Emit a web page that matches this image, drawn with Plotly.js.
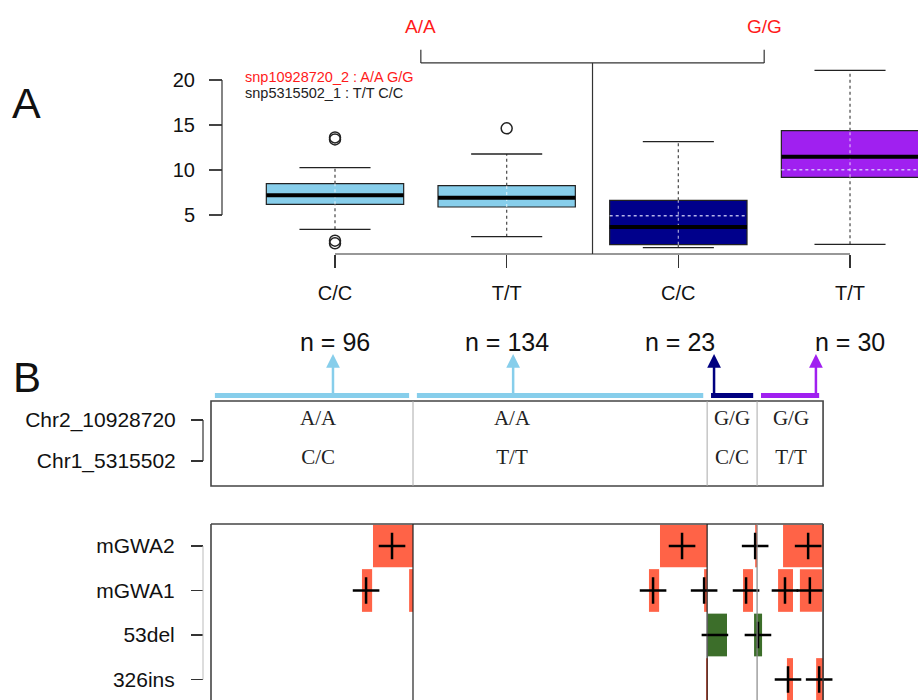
<!DOCTYPE html>
<html><head><meta charset="utf-8">
<script src="https://cdn.plot.ly/plotly-3.0.1.min.js"></script>
<style>html,body{margin:0;padding:0;background:#fff}#chart{width:918px;height:700px}</style>
</head><body><div id="chart"></div>
<script>
// ---------- Panel A : box plots ----------
const boxPos = [1, 2, 3, 4];
const boxTickText = ['C/C', 'T/T', 'C/C', 'T/T'];
const boxColors = ['#87CEEB', '#87CEEB', '#00008B', '#A020F0'];
const q1 = [6.19, 5.89, 1.70, 9.19];
const med = [7.19, 6.93, 3.67, 11.48];
const q3 = [8.48, 8.26, 6.63, 14.37];
const whiskLo = [3.41, 2.59, 1.37, 1.74];
const whiskHi = [10.26, 11.78, 13.15, 21.07];
const means = [null, null, 4.93, 10.04];
const outX = [1, 1, 1, 1, 2];
const outY = [13.40, 13.62, 1.85, 2.15, 14.63];
const groupLabels = ['A/A', 'G/G'];
const groupMembers = [[1, 2], [3, 4]];
const legendLines = ['snp10928720_2 : A/A G/G', 'snp5315502_1 : T/T C/C'];
const legendColors = ['#ff1a1a', '#222222'];
const yTicksA = [5, 10, 15, 20];

// ---------- Panel B : haplotype groups ----------
const hapNames = ['Chr2_10928720', 'Chr1_5315502'];
const hapRows = [2, 1];
const hapEdges = [0, 93.4, 229.4, 252.5, 283];
const hapCounts = [96, 134, 23, 30];
const hapColors = ['#87CEEB', '#87CEEB', '#000080', '#A020F0'];
const hapSnp1 = ['A/A', 'A/A', 'G/G', 'G/G'];
const hapSnp2 = ['C/C', 'T/T', 'C/C', 'T/T'];
const hapTextX = [49.5, 139.2, 240.9, 268.2];
const arrowX = [56.4, 139.7, 232.6, 279.7];
const countLabelX = [57.3, 136.9, 216.9, 295.5];

// ---------- Panel C : tracks ----------
const trackNames = ['326ins', '53del', 'mGWA1', 'mGWA2'];
const trackRows = [1, 2, 3, 4];
const redStart = [74.9, 207.6, 251.6, 264.5, 69.8, 91.6, 202.5, 228.0, 246.0, 262.2, 272.3, 228.9, 266.3, 279.8];
const redEnd   = [93.4, 229.4, 252.5, 283.0, 74.5, 93.4, 207.2, 229.4, 250.6, 269.1, 282.5, 229.8, 269.1, 283.0];
const redRow   = [4, 4, 4, 4, 3, 3, 3, 3, 3, 3, 3, 1, 1, 1];
const greenStart = [229.8, 251.1];
const greenEnd = [238.6, 254.8];
const greenRow = [2, 2];
const plusX = [83.7, 217.8, 251.6, 276.1, 71.7, 204.4, 228.0, 247.4, 265.4, 276.9, 252.9, 266.8, 281.2];
const plusRow = [4, 4, 4, 4, 3, 3, 3, 3, 3, 3, 2, 1, 1];
const minusX = [233.0];
const minusRow = [2];

const SANS = 'Liberation Sans, Arial, Helvetica, sans-serif';
const SERIF = 'Liberation Serif, Times New Roman, serif';
const W = 918, H = 700;
const px = v => v / W, py = v => 1 - v / H;

const traces = [];
const shapes = [];
const annotations = [];

// --- Panel A traces
const halfBox = 0.4, halfCap = 0.207;
traces.push({
  type: 'bar', x: boxPos, y: q3.map((v, i) => v - q1[i]), base: q1, width: 0.8,
  marker: {color: boxColors, line: {color: '#222', width: 1.2}},
  xaxis: 'x', yaxis: 'y', hoverinfo: 'skip', showlegend: false
});
function segs(xs0, xs1, ys0, ys1) {
  const X = [], Y = [];
  for (let i = 0; i < xs0.length; i++) {
    if (ys0[i] == null || ys1[i] == null) continue;
    X.push(xs0[i], xs1[i], null); Y.push(ys0[i], ys1[i], null);
  }
  return {X, Y};
}
let s;
s = segs(boxPos, boxPos, whiskLo, q1);
traces.push({type: 'scatter', mode: 'lines', x: s.X, y: s.Y, line: {color: '#555', width: 1.3, dash: 'dot'}, xaxis: 'x', yaxis: 'y', hoverinfo: 'skip', showlegend: false});
s = segs(boxPos, boxPos, q3, whiskHi);
traces.push({type: 'scatter', mode: 'lines', x: s.X, y: s.Y, line: {color: '#555', width: 1.3, dash: 'dot'}, xaxis: 'x', yaxis: 'y', hoverinfo: 'skip', showlegend: false});
s = segs(boxPos, boxPos, q1, q3);
traces.push({type: 'scatter', mode: 'lines', x: s.X, y: s.Y, line: {color: 'rgba(255,255,255,0.6)', width: 1.3, dash: 'dot'}, xaxis: 'x', yaxis: 'y', hoverinfo: 'skip', showlegend: false});
s = segs(boxPos.map(p => p - halfBox), boxPos.map(p => p + halfBox), means, means);
traces.push({type: 'scatter', mode: 'lines', x: s.X, y: s.Y, line: {color: 'rgba(225,225,255,0.8)', width: 1.5, dash: 'dot'}, xaxis: 'x', yaxis: 'y', hoverinfo: 'skip', showlegend: false});
const capsLo = segs(boxPos.map(p => p - halfCap), boxPos.map(p => p + halfCap), whiskLo, whiskLo);
const capsHi = segs(boxPos.map(p => p - halfCap), boxPos.map(p => p + halfCap), whiskHi, whiskHi);
traces.push({type: 'scatter', mode: 'lines', x: capsLo.X.concat(capsHi.X), y: capsLo.Y.concat(capsHi.Y), line: {color: '#222', width: 1.3}, xaxis: 'x', yaxis: 'y', hoverinfo: 'skip', showlegend: false});
s = segs(boxPos.map(p => p - halfBox), boxPos.map(p => p + halfBox), med, med);
traces.push({type: 'scatter', mode: 'lines', x: s.X, y: s.Y, line: {color: '#000', width: 4}, xaxis: 'x', yaxis: 'y', hoverinfo: 'skip', showlegend: false});
traces.push({type: 'scatter', mode: 'markers', x: outX, y: outY, marker: {symbol: 'circle-open', size: 11, color: '#222', line: {width: 1.5}}, xaxis: 'x', yaxis: 'y', hoverinfo: 'skip', showlegend: false});

// --- Panel A decorations
const yAxisX = 0.3418, xAxisY = 0.667, bracketY = 21.9, bracketTop = 23.35, groupLabelY = 25.9;
shapes.push({type: 'line', xref: 'x', yref: 'y', x0: yAxisX, x1: yAxisX, y0: yTicksA[0], y1: yTicksA[yTicksA.length - 1], line: {color: '#333', width: 1.2}});
shapes.push({type: 'line', xref: 'x', yref: 'y', x0: boxPos[0], x1: boxPos[boxPos.length - 1], y0: xAxisY, y1: xAxisY, line: {color: '#333', width: 1.2}});
const gCenters = groupMembers.map(g => (g[0] + g[1]) / 2);
const sepX = (groupMembers[0][1] + groupMembers[1][0]) / 2;
shapes.push({type: 'line', xref: 'x', yref: 'y', x0: sepX, x1: sepX, y0: xAxisY, y1: bracketY, line: {color: '#333', width: 1.2}});
shapes.push({type: 'line', xref: 'x', yref: 'y', x0: gCenters[0], x1: gCenters[1], y0: bracketY, y1: bracketY, line: {color: '#333', width: 1.2}});
gCenters.forEach((c, i) => {
  shapes.push({type: 'line', xref: 'x', yref: 'y', x0: c, x1: c, y0: bracketY, y1: bracketTop, line: {color: '#333', width: 1.2}});
  annotations.push({xref: 'x', yref: 'y', x: c, y: groupLabelY, text: groupLabels[i], showarrow: false, font: {family: SANS, size: 19, color: '#ff1a1a'}});
});
legendLines.forEach((t, i) => {
  annotations.push({xref: 'paper', yref: 'paper', x: px(243), y: py(77 + 16 * i), xanchor: 'left', yanchor: 'middle', text: t, showarrow: false, font: {family: SANS, size: 14.5, color: legendColors[i]}});
});
annotations.push({xref: 'paper', yref: 'paper', x: px(10), y: py(103), xanchor: 'left', yanchor: 'middle', text: 'A', showarrow: false, font: {family: SANS, size: 43, color: '#111', weight: 300}});
annotations.push({xref: 'paper', yref: 'paper', x: px(11), y: py(377), xanchor: 'left', yanchor: 'middle', text: 'B', showarrow: false, font: {family: SANS, size: 42, color: '#111', weight: 300}});

// --- Panel B
const boxBTop = 2.463, boxBBot = 0.39, barY = 2.598, arrowTipY = 3.61, countY = 3.90;
shapes.push({type: 'rect', xref: 'x2', yref: 'y2', x0: hapEdges[0], x1: hapEdges[hapEdges.length - 1], y0: boxBBot, y1: boxBTop, line: {color: '#444', width: 1.6}, fillcolor: 'rgba(0,0,0,0)'});
hapEdges.slice(1, -1).forEach(e => {
  shapes.push({type: 'line', xref: 'x2', yref: 'y2', x0: e, x1: e, y0: boxBBot, y1: boxBTop, line: {color: '#aaa', width: 1}});
});
shapes.push({type: 'line', xref: 'paper', yref: 'y2', x0: px(203), x1: px(203), y0: hapRows[1], y1: hapRows[0], line: {color: '#333', width: 1.2}});
const gap = 1.8;
hapCounts.forEach((n, i) => {
  traces.push({type: 'scatter', mode: 'lines', x: [hapEdges[i] + gap, hapEdges[i + 1] - gap], y: [barY, barY], line: {color: hapColors[i], width: 5}, xaxis: 'x2', yaxis: 'y2', hoverinfo: 'skip', showlegend: false});
  annotations.push({xref: 'x2', yref: 'y2', axref: 'x2', ayref: 'y2', x: arrowX[i], y: arrowTipY, ax: arrowX[i], ay: barY, text: '', showarrow: true, arrowhead: 2, arrowsize: 1.1, arrowwidth: 2.5, arrowcolor: hapColors[i]});
  annotations.push({xref: 'x2', yref: 'y2', x: countLabelX[i], y: countY, text: 'n = ' + n, showarrow: false, font: {family: SANS, size: 25, color: '#111'}});
});
traces.push({type: 'scatter', mode: 'text', x: hapTextX.concat(hapTextX), y: hapTextX.map(() => hapRows[0]).concat(hapTextX.map(() => hapRows[1] + 0.05)), text: hapSnp1.concat(hapSnp2), textfont: {family: SERIF, size: 21, color: '#222'}, xaxis: 'x2', yaxis: 'y2', hoverinfo: 'skip', showlegend: false});

// --- Panel C
const frameTop = 4.494, frameBot = 0.539;
traces.push({type: 'bar', orientation: 'h', y: redRow, base: redStart, x: redEnd.map((v, i) => v - redStart[i]), width: 0.96, marker: {color: '#FF6347', line: {width: 0}}, xaxis: 'x2', yaxis: 'y3', hoverinfo: 'skip', showlegend: false});
traces.push({type: 'bar', orientation: 'h', y: greenRow, base: greenStart, x: greenEnd.map((v, i) => v - greenStart[i]), width: 0.96, marker: {color: '#3C6E2A', line: {width: 0}}, xaxis: 'x2', yaxis: 'y3', hoverinfo: 'skip', showlegend: false});
traces.push({type: 'scatter', mode: 'markers', x: plusX, y: plusRow, marker: {symbol: 'cross-thin', size: 19, color: '#000', line: {color: '#000', width: 2.5}}, xaxis: 'x2', yaxis: 'y3', hoverinfo: 'skip', showlegend: false});
traces.push({type: 'scatter', mode: 'markers', x: minusX, y: minusRow, marker: {symbol: 'line-ew', size: 19, color: '#000', line: {color: '#000', width: 2.5}}, xaxis: 'x2', yaxis: 'y3', hoverinfo: 'skip', showlegend: false});
shapes.push({type: 'line', xref: 'x2', yref: 'y3', x0: hapEdges[0], x1: hapEdges[0], y0: frameBot, y1: frameTop, line: {color: '#444', width: 1.6}});
shapes.push({type: 'line', xref: 'x2', yref: 'y3', x0: hapEdges[4], x1: hapEdges[4], y0: frameBot, y1: frameTop, line: {color: '#333', width: 1.6}});
shapes.push({type: 'line', xref: 'x2', yref: 'y3', x0: hapEdges[0], x1: hapEdges[4], y0: frameTop, y1: frameTop, line: {color: '#444', width: 1.6}});
[[hapEdges[1], '#222'], [hapEdges[2], '#222'], [hapEdges[3], '#888']].forEach(([e, c]) => {
  shapes.push({type: 'line', xref: 'x2', yref: 'y3', x0: e, x1: e, y0: frameBot, y1: frameTop, line: {color: c, width: 1.2}});
});
shapes.push({type: 'line', xref: 'paper', yref: 'y3', x0: px(203), x1: px(203), y0: trackRows[0], y1: trackRows[3], line: {color: '#bbb', width: 1}});

const layout = {
  width: W, height: H, margin: {l: 0, r: 0, t: 0, b: 0},
  paper_bgcolor: '#fff', plot_bgcolor: 'rgba(0,0,0,0)',
  showlegend: false, barmode: 'overlay', hovermode: false,
  font: {family: SANS, color: '#222'},
  xaxis: {domain: [px(215), 1], range: [0.301, 4.396], anchor: 'free', position: py(254),
    tickmode: 'array', tickvals: boxPos, ticktext: boxTickText, ticks: 'outside', ticklen: 13, tickwidth: 1.2, tickcolor: '#333',
    tickfont: {family: SANS, size: 20, color: '#111'}, ticklabelstandoff: 8,
    showgrid: false, zeroline: false, showline: false},
  yaxis: {domain: [py(262), py(10)], range: [-0.222, 27.78], anchor: 'free', position: px(222),
    tickmode: 'array', tickvals: yTicksA, ticks: 'outside', ticklen: 13, tickwidth: 1.2, tickcolor: '#444',
    tickfont: {family: SANS, size: 20, color: '#111'}, ticklabelstandoff: 10,
    showgrid: false, zeroline: false, showline: false},
  xaxis2: {domain: [px(205), 1], range: [-2.775, 326.9], anchor: 'y2', visible: false, showgrid: false, zeroline: false},
  yaxis2: {domain: [py(490), py(330)], range: [0.293, 4.195], anchor: 'free', position: px(203),
    tickmode: 'array', tickvals: hapRows, ticktext: hapNames, ticks: 'outside', ticklen: 12, tickwidth: 1.2, tickcolor: '#333',
    tickfont: {family: SANS, size: 21, color: '#111'}, ticklabelstandoff: 11,
    showgrid: false, zeroline: false, showline: false},
  yaxis3: {domain: [0, py(520)], range: [0.539, 4.584], anchor: 'free', position: px(203),
    tickmode: 'array', tickvals: trackRows, ticktext: trackNames, ticks: 'outside', ticklen: 12, tickwidth: 1.2, tickcolor: '#333',
    tickfont: {family: SANS, size: 21, color: '#111'}, ticklabelstandoff: 12,
    showgrid: false, zeroline: false, showline: false},
  shapes: shapes, annotations: annotations
};
Plotly.newPlot('chart', traces, layout, {staticPlot: true, displayModeBar: false});
</script></body></html>
